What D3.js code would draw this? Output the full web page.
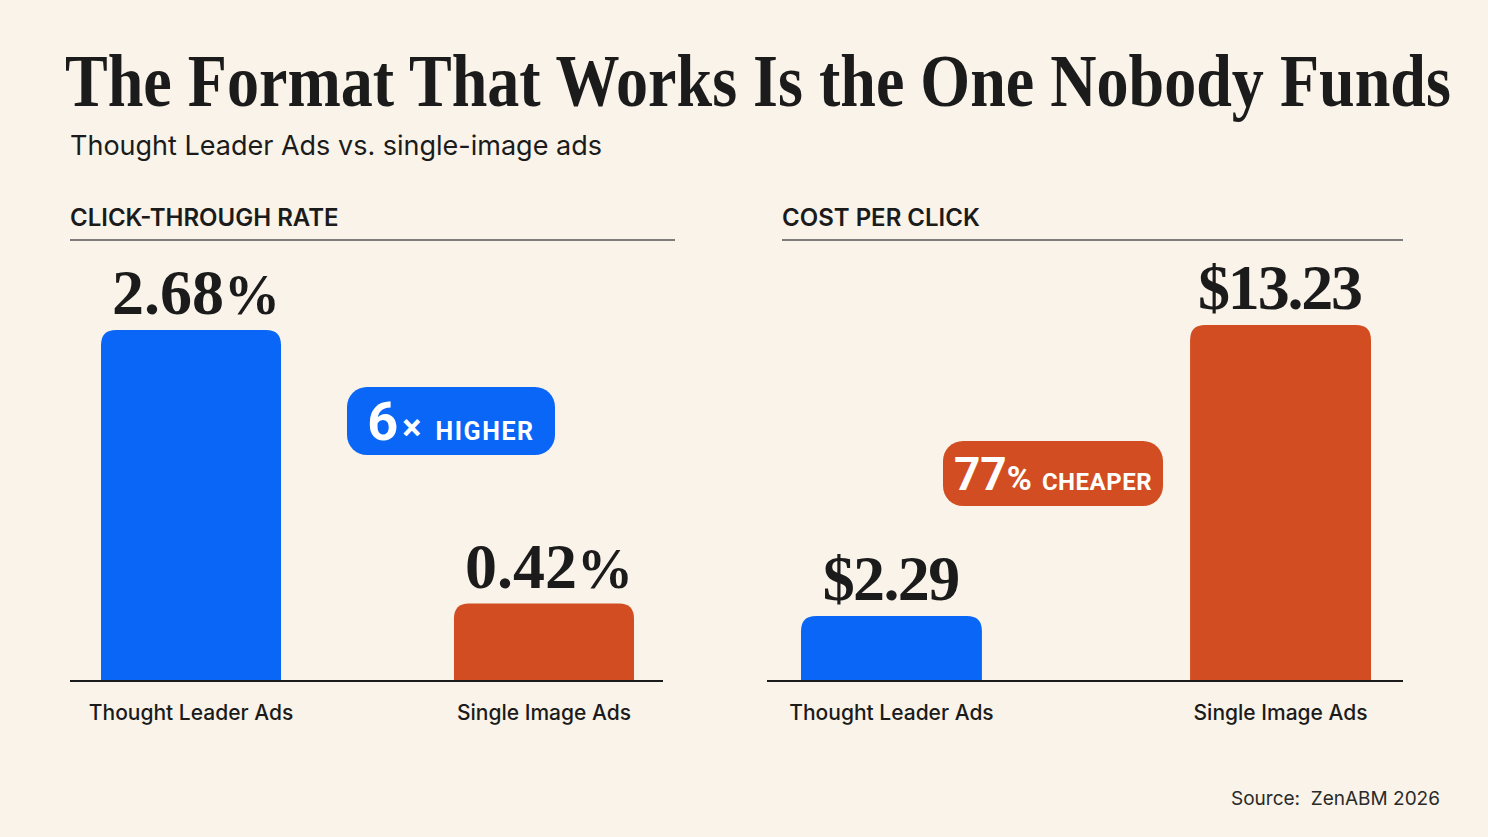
<!DOCTYPE html>
<html>
<head>
<meta charset="utf-8">
<script src="https://cdn.jsdelivr.net/npm/d3@7"></script>
<style>
  html, body { margin: 0; padding: 0; background: #f9f3e9; }
  svg { display: block; }
</style>
</head>
<body>
<div id="chart"></div>
<script>
// data
var categories = ["Thought Leader Ads", "Single Image Ads"];
var ctrValues = [2.68, 0.42];
var cpcValues = [2.29, 13.23];
var ctrLabels = ["2.68", "0.42"];
var cpcLabels = ["$2.29", "$13.23"];

var title = "The Format That Works Is the One Nobody Funds";
var subtitle = "Thought Leader Ads vs. single-image ads";
var source = "Source:  ZenABM 2026";

var blue = "#0a66f6", orange = "#d24e22", ink = "#1b1b1b";
var sans = "Inter, 'Noto Sans', sans-serif";
var badgeFont = "Roboto, Inter, sans-serif";
var serif = "'Liberation Serif', 'DejaVu Serif', serif";

var width = 1488, height = 837;
var baseY = 681;

var svg = d3.select("#chart")
    .append("svg")
    .attr("width", width)
    .attr("height", height);

svg.append("rect")
    .attr("width", width)
    .attr("height", height)
    .attr("fill", "#f9f3e9");

// Title, squeezed horizontally to fit like the condensed original
var titleText = svg.append("text")
    .attr("x", 0)
    .attr("y", 0)
    .attr("font-family", serif)
    .attr("font-weight", "bold")
    .attr("font-size", "74px")
    .attr("fill", ink)
    .text(title);
var natural = titleText.node().getComputedTextLength();
titleText.attr("transform", "translate(65,106) scale(" + (1386 / natural) + ",1)");

svg.append("text")
    .attr("x", 70)
    .attr("y", 155)
    .attr("font-family", sans)
    .attr("font-size", "27px")
    .attr("fill", ink)
    .text(subtitle);

svg.append("text")
    .attr("x", 1440)
    .attr("y", 805)
    .attr("text-anchor", "end")
    .attr("font-family", sans)
    .attr("font-size", "19px")
    .attr("fill", "#2a2a2a")
    .attr("xml:space", "preserve")
    .text(source);

// rounded-top bar path
function barPath(x, y, w, h, r) {
    r = Math.min(r, h, w / 2);
    return "M" + x + "," + (y + h) +
        "V" + (y + r) +
        "Q" + x + "," + y + " " + (x + r) + "," + y +
        "H" + (x + w - r) +
        "Q" + (x + w) + "," + y + " " + (x + w) + "," + (y + r) +
        "V" + (y + h) + "Z";
}

function panel(opts) {
    var g = svg.append("g");

    g.append("text")
        .attr("x", opts.headX)
        .attr("y", 226)
        .attr("font-family", sans)
        .attr("font-weight", 600)
        .attr("font-size", "24px")
        .attr("fill", ink)
        .text(opts.header);

    g.append("line")
        .attr("x1", opts.headX)
        .attr("x2", opts.ruleEnd)
        .attr("y1", 240)
        .attr("y2", 240)
        .attr("stroke", "#555")
        .attr("stroke-width", 1.6);

    var x = d3.scaleBand()
        .domain(categories)
        .range(opts.xRange)
        .paddingInner(opts.pad)
        .paddingOuter(0);

    var y = d3.scaleLinear()
        .domain(opts.yDomain)
        .range([baseY, opts.yTop]);

    var data = categories.map(function(c, i) {
        return { cat: c, value: opts.values[i], label: opts.labels[i], color: [blue, orange][i] };
    });

    g.selectAll("path.bar")
        .data(data)
        .enter()
        .append("path")
        .attr("class", "bar")
        .attr("fill", function(d) { return d.color; })
        .attr("d", function(d) {
            return barPath(x(d.cat), y(d.value), x.bandwidth(), baseY - y(d.value), 15);
        });

    var vl = g.selectAll("text.val")
        .data(data)
        .enter()
        .append("text")
        .attr("class", "val")
        .attr("x", function(d) { return x(d.cat) + x.bandwidth() / 2 + (opts.pct ? 5 : 0); })
        .attr("y", function(d) { return y(d.value) - 16; })
        .attr("text-anchor", "middle")
        .attr("font-family", serif)
        .attr("font-weight", "bold")
        .attr("font-size", "64px")
        .attr("fill", ink);
    vl.append("tspan")
        .attr("textLength", function(d) { return opts.pct ? null : d.label.length * 27.5; })
        .text(function(d) { return d.label; });
    if (opts.pct) {
        vl.append("tspan")
            .attr("font-size", "56px")
            .text("%");
    }

    g.append("line")
        .attr("x1", opts.baseX[0])
        .attr("x2", opts.baseX[1])
        .attr("y1", baseY)
        .attr("y2", baseY)
        .attr("stroke", "#1b1b1b")
        .attr("stroke-width", 2.2);

    var axis = d3.axisBottom(x).tickSize(0).tickPadding(0);
    var ax = g.append("g")
        .attr("transform", "translate(0," + baseY + ")")
        .call(axis);
    ax.select(".domain").remove();
    ax.selectAll("text")
        .attr("dy", 0)
        .attr("y", 39)
        .attr("font-family", sans)
        .attr("font-weight", 500)
        .attr("font-size", "21px")
        .attr("fill", ink);

    // badge
    var b = opts.badge;
    g.append("rect")
        .attr("x", b.x)
        .attr("y", b.y)
        .attr("width", b.w)
        .attr("height", b.h)
        .attr("rx", 20)
        .attr("fill", b.color);
    var bt = g.append("text")
        .attr("x", b.x + b.w / 2)
        .attr("y", b.y + b.h / 2 + b.base)
        .attr("text-anchor", "middle")
        .attr("font-family", badgeFont)
        .attr("font-weight", "bold")
        .attr("fill", "#fff");
    b.parts.forEach(function(p) {
        bt.append("tspan")
            .attr("font-size", p.size)
            .attr("dx", p.dx || 0)
            .attr("letter-spacing", p.ls || 0)
            .text(p.t);
    });
}

panel({
    header: "CLICK-THROUGH RATE",
    headX: 70, ruleEnd: 675,
    xRange: [101, 634], pad: 0.49,
    yDomain: [-0.22, 2.68], yTop: 330,
    values: ctrValues, labels: ctrLabels, pct: true,
    baseX: [70, 663],
    badge: { x: 347, y: 387, w: 208, h: 68, color: blue, base: 19,
        parts: [ { t: "6", size: "54px" }, { t: "×", size: "36px", dx: 4 }, { t: "HIGHER", size: "25px", dx: 14, ls: 1.6 } ] }
});

panel({
    header: "COST PER CLICK",
    headX: 782, ruleEnd: 1403,
    xRange: [801, 1371], pad: 0.535,
    yDomain: [-0.15, 13.23], yTop: 325,
    values: cpcValues, labels: cpcLabels, pct: false,
    baseX: [767, 1403],
    badge: { x: 943, y: 441, w: 220, h: 65, color: orange, base: 16,
        parts: [ { t: "77", size: "46px" }, { t: "%", size: "34px" }, { t: "CHEAPER", size: "24px", dx: 10, ls: 0.5 } ] }
});
</script>
</body>
</html>
